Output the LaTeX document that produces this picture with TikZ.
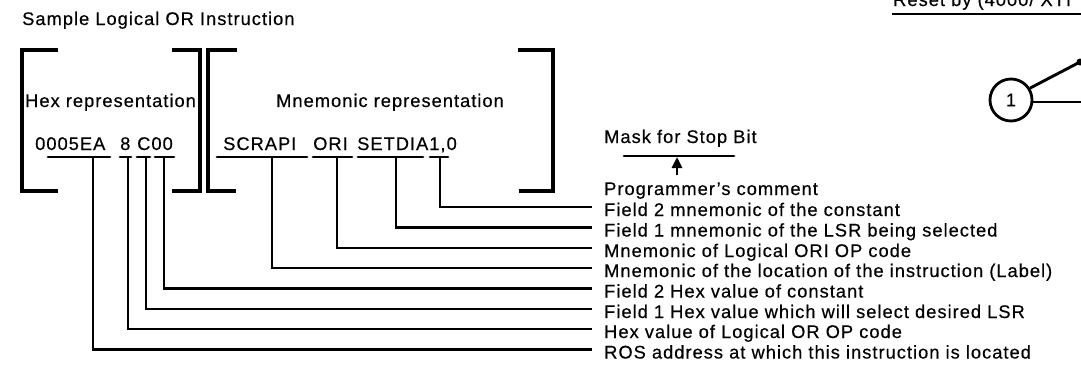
\documentclass[tikz,border=0pt]{standalone}
\usepackage{fontspec}
\setmainfont{Liberation Sans}[LetterSpace=5.5,FakeBold=0.4]
\usetikzlibrary{arrows.meta}
\begin{document}
\begin{tikzpicture}[x=1pt,y=-1pt,
  font=\fontsize{18.3}{20}\selectfont,
  lab/.style={anchor=base west, inner sep=0pt},
  ln/.style={line width=2.9pt},
  ul/.style={line width=2.9pt, line cap=round},
  brk/.style={line width=3.3pt, line join=miter}]
\useasboundingbox (0,0) rectangle (1081,386);
\clip (0,0) rectangle (1081,386);

% title
\node[lab] (title) at (22,25) {Sample Logical OR Instruction};

% brackets
\draw[brk] (58,50) -| (22,191) -- (58,191);
\draw[brk] (172,50) -| (200,191) -- (172,191);
\draw[brk] (237,50) -| (208,191) -- (236,191);
\draw[brk] (518,50) -| (553,191) -- (519,191);

\node[lab] (hexh) at (25,107) {Hex representation};
\node[lab] (mnh) at (276,107) {Mnemonic representation};

% instruction text
\node[lab] (t1) at (35,150) {0005EA};
\node[lab] (t2) at (120,150) {8};
\node[lab] (t3) at (137,150) {C00};
\node[lab] (t4) at (223,150) {SCRAPI};
\node[lab] (t5) at (313,150) {ORI};
\node[lab] (t6) at (357,150) {SETDIA1,0};

% underlines
\draw[ul] (48,157) -- (110,157);
\draw[ul] (120,157) -- (131,157);
\draw[ul] (137,157) -- (150,157);
\draw[ul] (155,157) -- (174,157);
\draw[ul] (217,157) -- (307,157);
\draw[ul] (313,157) -- (352,157);
\draw[ul] (358,157) -- (423,157);
\draw[ul] (430,157) -- (448,157);

\coordinate (d1) at (93,157);
\coordinate (d2) at (128,157);
\coordinate (d3) at (146,157);
\coordinate (d4) at (164,157);
\coordinate (d5) at (272,157);
\coordinate (d6) at (337,157);
\coordinate (d7) at (396,157);
\coordinate (d8) at (440,157);

% labels
\node[lab] (mask) at (604,143) {Mask for Stop Bit};
\node[lab] (r0) at (604,195) {Programmer's comment};
\node[lab] (r1) at (604,216) {Field 2 mnemonic of the constant};
\node[lab] (r2) at (604,236.5) {Field 1 mnemonic of the LSR being selected};
\node[lab] (r3) at (604,257) {Mnemonic of Logical ORI OP code};
\node[lab] (r4) at (604,277) {Mnemonic of the location of the instruction (Label)};
\node[lab] (r5) at (604,297.5) {Field 2 Hex value of constant};
\node[lab] (r6) at (604,318) {Field 1 Hex value which will select desired LSR};
\node[lab] (r7) at (604,338) {Hex value of Logical OR OP code};
\node[lab] (r8) at (604,358.5) {ROS address at which this instruction is located};

% leaders
\draw[ln] (d8) |- ([shift={(-12,-9)}]r1.base west);
\draw[ln] (d7) |- ([shift={(-12,-9)}]r2.base west);
\draw[ln] (d6) |- ([shift={(-12,-9)}]r3.base west);
\draw[ln] (d5) |- ([shift={(-12,-9)}]r4.base west);
\draw[ln] (d4) |- ([shift={(-12,-9)}]r5.base west);
\draw[ln] (d3) |- ([shift={(-12,-9)}]r6.base west);
\draw[ln] (d2) |- ([shift={(-12,-9)}]r7.base west);
\draw[ln] (d1) |- ([shift={(-12,-9)}]r8.base west);

% mask marker
\coordinate (m1) at (624,156);
\coordinate (m2) at (734,156);
\coordinate (ma) at (677,175);
\coordinate (mb) at (677,157);
\draw[ul] (m1) -- (m2);
\draw[ln, -{Triangle[width=10pt,length=11pt]}] (ma) -- (mb);

% top right fragment
\node[lab] (reset) at (893,6) {Reset by (4000/ XTI};
\coordinate (u1) at (892,14);
\coordinate (u2) at (1090,14);
\draw[line width=2.4pt] (u1) -- (u2);
\node[draw, circle, line width=2.8pt, minimum size=42pt, inner sep=0pt] (c1) at (1011,100) {1};
\coordinate (e1) at (1080,62);
\coordinate (e2) at (1090,102);
\draw[ln] (c1.32) -- (e1);
\fill (e1) circle (3.5);
\draw[ln] (c1.east |- e2) -- (e2);
\end{tikzpicture}
\end{document}
